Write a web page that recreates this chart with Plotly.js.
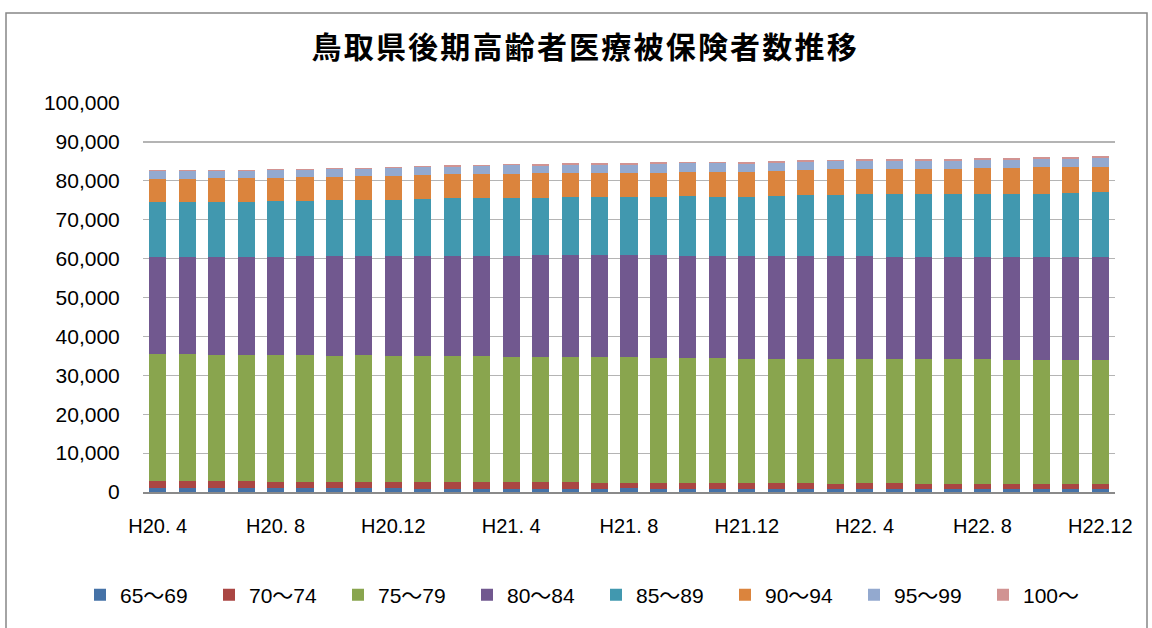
<!DOCTYPE html>
<html>
<head>
<meta charset="utf-8">
<script src="https://cdn.plot.ly/plotly-3.0.1.min.js"></script>
<style>
  html, body { margin: 0; padding: 0; background: #fff; }
  #chart { width: 1152px; height: 628px; }
  .gtitle { letter-spacing: 2.2px; }
</style>
</head>
<body>
<div id="chart"></div>
<script>
const months = ["H20. 4","H20. 5","H20. 6","H20. 7","H20. 8","H20. 9","H20.10","H20.11","H20.12",
  "H21. 1","H21. 2","H21. 3","H21. 4","H21. 5","H21. 6","H21. 7","H21. 8","H21. 9","H21.10","H21.11","H21.12",
  "H22. 1","H22. 2","H22. 3","H22. 4","H22. 5","H22. 6","H22. 7","H22. 8","H22. 9","H22.10","H22.11","H22.12"];
const tickLabels = ["H20. 4","H20. 8","H20.12","H21. 4","H21. 8","H21.12","H22. 4","H22. 8","H22.12"];

const seriesNames = ["65～69","70～74","75～79","80～84","85～89","90～94","95～99","100～"];
const seriesColors = ["#4572A7","#AA4643","#89A54E","#71588F","#4198AF","#DB843D","#93A9CF","#D19392"];

const age65_69 = [1150,1150,1150,1150,1150,1150,1150,1150,1150,800,800,800,800,800,800,800,1150,800,800,800,800,800,800,800,800,800,800,800,800,800,800,800,800];
const age70_74 = [1760,1760,1760,1760,1500,1500,1500,1500,1500,1850,1850,1850,1850,1850,1850,1590,1240,1590,1590,1590,1590,1590,1590,1340,1590,1590,1340,1340,1340,1340,1340,1340,1340];
const age75_79 = [32630,32630,32380,32380,32640,32640,32380,32640,32380,32380,32380,32380,32120,32120,32120,32380,32300,32040,32040,32040,31780,31780,31780,32030,31780,31780,32030,32030,32030,31780,31780,31780,31780];
const age80_84 = [24890,24890,25140,25140,25140,25400,25660,25400,25660,25660,25660,25660,25920,26170,26170,26170,26250,26510,26260,26260,26520,26520,26520,26520,26520,26260,26260,26260,26260,26510,26510,26510,26510];
const age85_89 = [14030,14030,14030,14030,14370,14110,14280,14280,14280,14620,14790,15010,14850,14600,14860,14860,14860,14860,15370,15110,15110,15370,15620,15620,15880,16140,16140,16140,16140,16140,16140,16400,16660];
const age90_94 = [5970,5970,6310,6310,5970,6140,5970,6320,6320,6150,6320,6050,6170,6430,6170,6170,6170,6170,6170,6430,6430,6430,6430,6690,6430,6430,6430,6430,6690,6690,6940,6680,6420];
const age95_99 = [2060,2060,1720,1720,2060,1890,2060,1710,2050,2050,1710,1940,2320,1890,2060,2060,2060,2400,2310,2310,2140,2050,2110,2060,2060,2060,2200,2060,2140,2140,2060,2060,2400];
const age100 = [250,250,250,250,170,170,260,260,260,260,520,340,260,430,510,510,510,430,260,260,430,520,460,250,510,510,370,510,430,430,510,510,430];

const seriesValues = [age65_69, age70_74, age75_79, age80_84, age85_89, age90_94, age95_99, age100];

const baseFont = "Liberation Sans, Arial, Noto Sans CJK JP, sans-serif";

const traces = seriesValues.map((vals, i) => ({
  type: "bar",
  name: seriesNames[i],
  x: months,
  y: vals,
  marker: { color: seriesColors[i], line: { width: 0 } },
  hoverinfo: "x+y+name"
}));

const plotL = 143, plotR = 1115, plotT = 103, plotB = 492;
const px2x = p => (p - plotL) / (plotR - plotL);
const px2y = p => (plotB - p) / (plotB - plotT);

const layout = {
  width: 1152,
  height: 628,
  margin: { l: plotL, r: 1152 - plotR, t: plotT, b: 628 - plotB, pad: 0, autoexpand: false },
  paper_bgcolor: "#ffffff",
  plot_bgcolor: "#ffffff",
  barmode: "stack",
  bargap: 0.42,
  font: { family: baseFont, size: 20, color: "#000" },
  title: {
    text: "鳥取県後期高齢者医療被保険者数推移",
    font: { family: "Noto Sans CJK JP", size: 30, color: "#000", weight: "bold" },
    xref: "container", x: 0.508, xanchor: "center",
    yref: "container", y: 1 - 47 / 628, yanchor: "middle"
  },
  xaxis: {
    type: "category",
    tickmode: "array",
    tickvals: tickLabels,
    ticktext: tickLabels,
    ticks: "outside",
    ticklen: 15,
    tickcolor: "rgba(0,0,0,0)",
    showline: true,
    linecolor: "#8A8A8A",
    linewidth: 1.5,
    showgrid: false,
    automargin: false,
    tickfont: { family: baseFont, size: 20, color: "#000" },
    range: [-0.5, months.length - 0.5],
    fixedrange: true
  },
  yaxis: {
    range: [0, 100000],
    tickmode: "array",
    tickvals: [0,10000,20000,30000,40000,50000,60000,70000,80000,90000,100000],
    tickformat: ",d",
    ticks: "outside",
    ticklen: 18,
    tickcolor: "rgba(0,0,0,0)",
    showgrid: true,
    gridcolor: "#B4B4B4",
    gridwidth: 1.2,
    zeroline: false,
    showline: false,
    automargin: false,
    tickfont: { family: baseFont, size: 21, color: "#000" },
    fixedrange: true
  },
  legend: {
    orientation: "h",
    x: px2x(80), xanchor: "left",
    y: px2y(595), yanchor: "middle",
    entrywidth: 84,
    entrywidthmode: "pixels",
    traceorder: "normal",
    font: { family: baseFont, size: 21, color: "#000" },
    bgcolor: "rgba(0,0,0,0)"
  },
  shapes: [{
    type: "rect", xref: "paper", yref: "paper",
    x0: px2x(6), x1: px2x(1147), y0: px2y(640), y1: px2y(13),
    line: { color: "#878787", width: 1.5 },
    fillcolor: "rgba(0,0,0,0)",
    layer: "below"
  }],
  showlegend: true
};

Plotly.newPlot("chart", traces, layout, { displayModeBar: false, staticPlot: true });
</script>
</body>
</html>
